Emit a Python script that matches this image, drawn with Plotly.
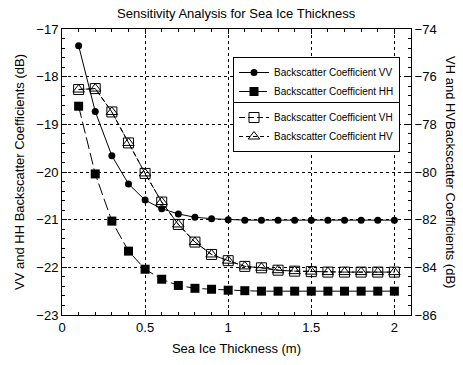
import plotly.graph_objects as go

thickness = [0.1, 0.2, 0.3, 0.4, 0.5, 0.6, 0.7, 0.8, 0.9, 1.0,
             1.1, 1.2, 1.3, 1.4, 1.5, 1.6, 1.7, 1.8, 1.9, 2.0]
vv = [-17.35, -18.73, -19.66, -20.25, -20.59, -20.77, -20.88, -20.95, -20.98, -21.0,
      -21.01, -21.01, -21.01, -21.01, -21.01, -21.01, -21.01, -21.01, -21.01, -21.01]
hh = [-18.62, -20.04, -21.03, -21.66, -22.04, -22.25, -22.38, -22.44, -22.46, -22.48,
      -22.49, -22.5, -22.5, -22.5, -22.5, -22.5, -22.5, -22.5, -22.5, -22.5]
vh = [-76.54, -76.5, -77.48, -78.78, -80.06, -81.26, -82.2, -82.94, -83.46, -83.72,
      -83.96, -84.02, -84.12, -84.16, -84.18, -84.2, -84.2, -84.2, -84.2, -84.2]
hv = [-76.54, -76.5, -77.48, -78.78, -80.06, -81.26, -82.2, -82.94, -83.46, -83.72,
      -83.96, -84.02, -84.12, -84.16, -84.18, -84.2, -84.2, -84.2, -84.2, -84.2]

FONT = "Liberation Sans, Arial, sans-serif"

# plot area in pixels (for converting legend shadow placement)
L, T, R, B = 62, 29, 411, 315
PW, PH = R - L, B - T


def px_x(p):
    return (p - L) / PW


def px_y(p):
    return (B - p) / PH


fig = go.Figure()
fig.add_trace(go.Scatter(x=thickness, y=vv, name="Backscatter Coefficient VV",
                         mode="lines+markers", line=dict(color="black", width=1),
                         marker=dict(symbol="circle", size=7, color="black"),
                         legend="legend"))
fig.add_trace(go.Scatter(x=thickness, y=hh, name="Backscatter Coefficient HH",
                         mode="lines+markers", line=dict(color="black", width=1, dash="12px,4px"),
                         marker=dict(symbol="square", size=9, color="black"),
                         legend="legend"))
fig.add_trace(go.Scatter(x=thickness, y=vh, name="Backscatter Coefficient VH",
                         mode="lines+markers", yaxis="y2",
                         line=dict(color="black", width=1, dash="6px,3px"),
                         marker=dict(symbol="square-open", size=10, color="black",
                                     line=dict(width=1)),
                         legend="legend2"))
fig.add_trace(go.Scatter(x=thickness, y=hv, name="Backscatter Coefficient HV",
                         mode="lines+markers", yaxis="y2",
                         line=dict(color="black", width=1, dash="4px,3px"),
                         marker=dict(symbol="triangle-up-open", size=10, color="black",
                                     line=dict(width=1)),
                         legend="legend2"))

grid = dict(showgrid=True, gridcolor="black", gridwidth=1, griddash="dot")

LEG1_TOP, LEG2_TOP, LEG_H = 57, 102, 43

fig.update_layout(
    width=463, height=365,
    margin=dict(l=L, r=463 - R, t=T, b=365 - B),
    paper_bgcolor="white", plot_bgcolor="white",
    font=dict(family=FONT, size=13, color="black"),
    title=dict(text="Sensitivity Analysis for Sea Ice Thickness", x=0.51, xanchor="center",
               y=0.962, yanchor="middle", font=dict(size=13)),
    xaxis=dict(range=[0, 2.1], dtick=0.5, tick0=0, showline=True, linecolor="black",
               linewidth=1, mirror="ticks", ticks="inside", ticklen=5, tickcolor="black",
               minor=dict(dtick=0.1, ticks="inside", ticklen=3, tickcolor="black", showgrid=False),
               title=dict(text="Sea Ice Thickness (m)", standoff=10, font=dict(size=13)),
               zeroline=False, **grid),
    yaxis=dict(range=[-23, -17], dtick=1, showline=True, linecolor="black", linewidth=1,
               ticks="inside", ticklen=5, tickcolor="black",
               minor=dict(dtick=0.2, ticks="inside", ticklen=3, tickcolor="black", showgrid=False),
               title=dict(text="VV and HH Backscatter Coefficients (dB)", standoff=8,
                          font=dict(size=13)),
               zeroline=False, **grid),
    yaxis2=dict(range=[-86, -74], dtick=2, overlaying="y", side="right", showline=True,
                linecolor="black", linewidth=1, ticks="inside", ticklen=5, tickcolor="black",
                minor=dict(dtick=0.4, ticks="inside", ticklen=3, tickcolor="black"),
                showgrid=False, zeroline=False),
    legend=dict(x=px_x(233), y=px_y(LEG1_TOP), xanchor="left", yanchor="top", bgcolor="white",
                bordercolor="black", borderwidth=1, font=dict(size=10), itemwidth=30,
                tracegroupgap=0),
    legend2=dict(x=px_x(233), y=px_y(LEG2_TOP), xanchor="left", yanchor="top", bgcolor="white",
                 bordercolor="black", borderwidth=1, font=dict(size=10), itemwidth=30,
                 tracegroupgap=0),
    showlegend=True,
)

# drop shadows behind the two legend boxes
for top in (LEG1_TOP, LEG2_TOP):
    fig.add_shape(type="rect", xref="paper", yref="paper", layer="above",
                  x0=px_x(236), x1=px_x(395), y0=px_y(top + 3), y1=px_y(top + LEG_H + 2),
                  fillcolor="black", line=dict(width=0))

fig.add_annotation(text="VH and HVBackscatter Coefficients (dB)", textangle=90,
                   xref="paper", yref="paper", x=1.0, xshift=40, y=0.5, showarrow=False,
                   font=dict(size=13), xanchor="center", yanchor="middle")

fig.write_html("out.html")
